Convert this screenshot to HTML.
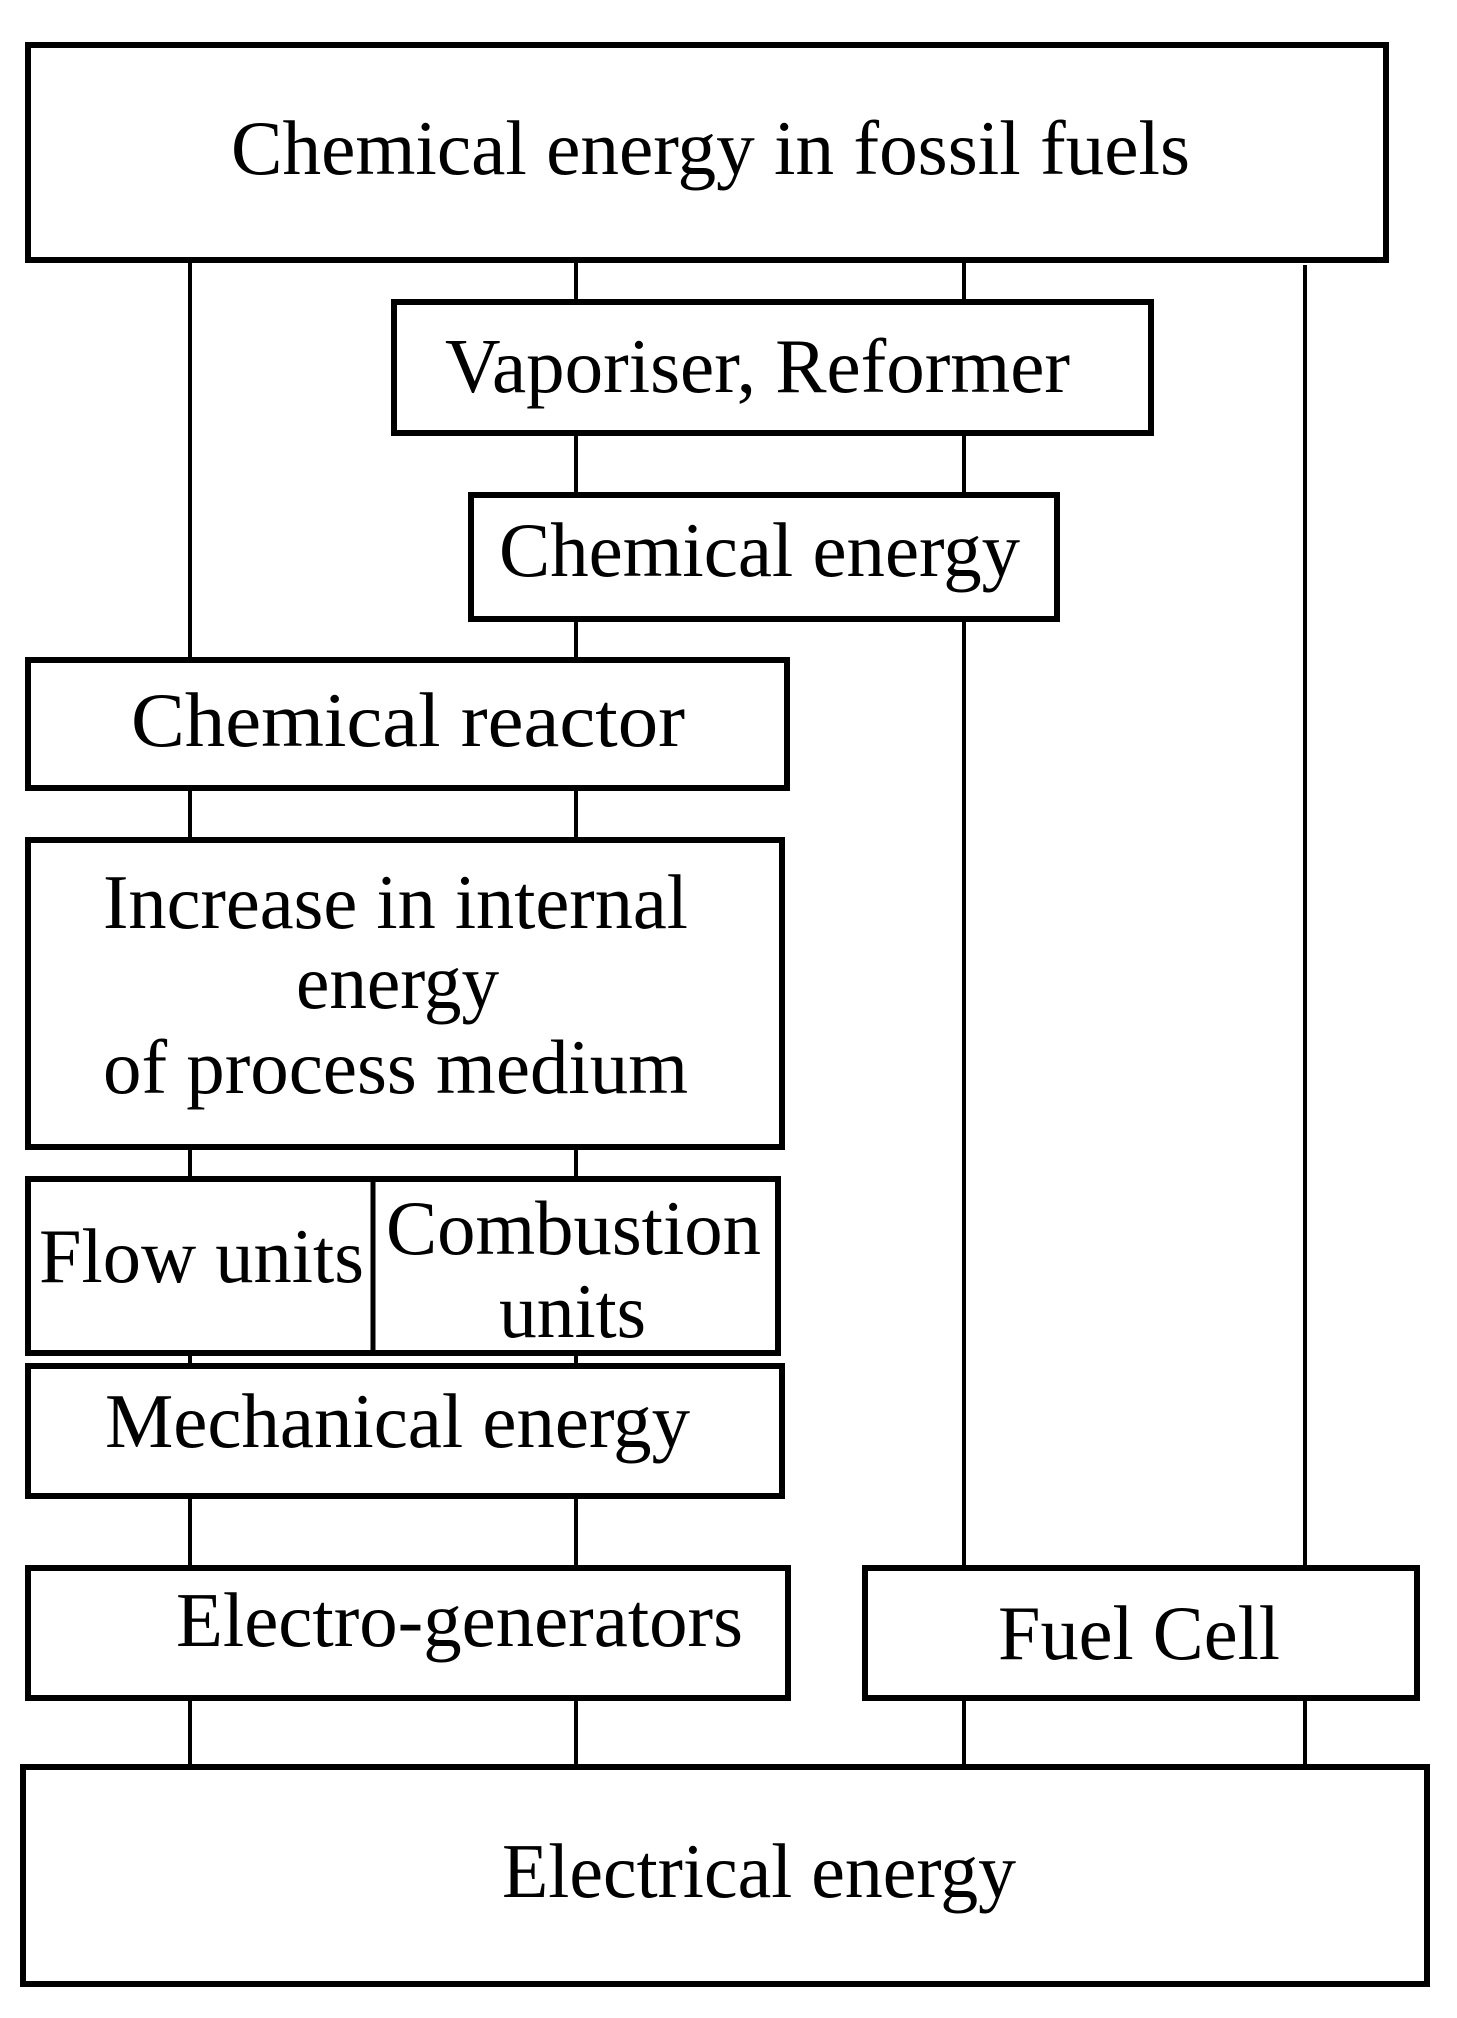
<!DOCTYPE html>
<html><head><meta charset="utf-8"><style>html,body{margin:0;padding:0;background:#fff}svg{display:block}</style></head>
<body>
<svg width="1457" height="2018" viewBox="0 0 1457 2018" xmlns="http://www.w3.org/2000/svg">
<g stroke="#000" stroke-width="4" fill="none">
<line x1="190" y1="260" x2="190" y2="1767"/>
<line x1="576" y1="260" x2="576" y2="1767"/>
<line x1="964" y1="260" x2="964" y2="1767"/>
<line x1="1305" y1="265" x2="1305" y2="1767"/>
</g>
<g stroke="#000" stroke-width="6" fill="#fff">
<rect x="28" y="45" width="1358" height="215"/>
<rect x="394" y="302" width="757" height="131"/>
<rect x="471" y="495" width="586" height="124"/>
<rect x="28" y="660" width="759" height="128"/>
<rect x="28" y="840" width="754" height="307"/>
<rect x="28" y="1179" width="750" height="174"/>
<rect x="28" y="1366" width="754" height="130"/>
<rect x="28" y="1568" width="760" height="130"/>
<rect x="865" y="1568" width="552" height="130"/>
<rect x="23" y="1767" width="1404" height="217"/>
</g>
<line x1="373" y1="1179" x2="373" y2="1353" stroke="#000" stroke-width="5"/>
<g font-family="Liberation Serif, serif" font-size="77" fill="#000">
<text x="231" y="174" textLength="959" lengthAdjust="spacingAndGlyphs">Chemical energy in fossil fuels</text>
<text x="445" y="392" textLength="625" lengthAdjust="spacingAndGlyphs">Vaporiser, Reformer</text>
<text x="499" y="576" textLength="521" lengthAdjust="spacingAndGlyphs">Chemical energy</text>
<text x="131" y="746" textLength="554" lengthAdjust="spacingAndGlyphs">Chemical reactor</text>
<text x="103" y="928" textLength="585" lengthAdjust="spacingAndGlyphs">Increase in internal</text>
<text x="296" y="1008" textLength="203" lengthAdjust="spacingAndGlyphs">energy</text>
<text x="103" y="1093" textLength="585" lengthAdjust="spacingAndGlyphs">of process medium</text>
<text x="39" y="1282" textLength="325" lengthAdjust="spacingAndGlyphs">Flow units</text>
<text x="386" y="1254" textLength="375" lengthAdjust="spacingAndGlyphs">Combustion</text>
<text x="499" y="1337" textLength="147" lengthAdjust="spacingAndGlyphs">units</text>
<text x="105" y="1447" textLength="585" lengthAdjust="spacingAndGlyphs">Mechanical energy</text>
<text x="176" y="1646" textLength="567" lengthAdjust="spacingAndGlyphs">Electro-generators</text>
<text x="998" y="1659" textLength="282" lengthAdjust="spacingAndGlyphs">Fuel Cell</text>
<text x="502" y="1897" textLength="514" lengthAdjust="spacingAndGlyphs">Electrical energy</text>
</g>
</svg>
</body></html>
